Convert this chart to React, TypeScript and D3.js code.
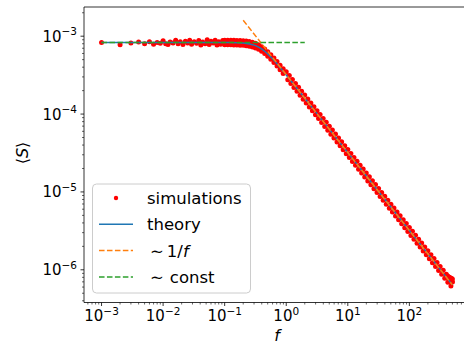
import * as d3 from "d3";

// simulation points (f, <S>)
const simF = [
  0.001, 0.002, 0.003, 0.004, 0.005, 0.006, 0.007, 0.008, 0.009, 0.010,
  0.011, 0.012, 0.013, 0.0145, 0.016, 0.0175, 0.019, 0.021, 0.023, 0.025,
  0.027, 0.029, 0.032, 0.035, 0.038, 0.041, 0.044, 0.048, 0.052, 0.056,
  0.06, 0.065, 0.07, 0.075, 0.08, 0.086, 0.093,
  // knee, two per frequency
  0.1, 0.1, 0.112, 0.112, 0.126, 0.126, 0.141, 0.141, 0.158, 0.158,
  0.178, 0.178, 0.2, 0.2, 0.224, 0.224, 0.251, 0.251, 0.282, 0.282,
  0.316, 0.316, 0.355, 0.355, 0.398, 0.398, 0.447, 0.447, 0.501, 0.501,
  0.562, 0.562, 0.631, 0.631, 0.708, 0.708, 0.794, 0.794, 0.891, 0.891,
  // 1/f part
  1.000, 1.059, 1.122, 1.189, 1.259, 1.334, 1.413, 1.496, 1.585, 1.679,
  1.778, 1.884, 1.995, 2.113, 2.239, 2.371, 2.512, 2.661, 2.818, 2.985,
  3.162, 3.350, 3.548, 3.758, 3.981, 4.217, 4.467, 4.732, 5.012, 5.309,
  5.623, 5.957, 6.310, 6.683, 7.079, 7.499, 7.943, 8.414, 8.913, 9.441,
  10.00, 10.59, 11.22, 11.89, 12.59, 13.34, 14.13, 14.96, 15.85, 16.79,
  17.78, 18.84, 19.95, 21.13, 22.39, 23.71, 25.12, 26.61, 28.18, 29.85,
  31.62, 33.50, 35.48, 37.58, 39.81, 42.17, 44.67, 47.32, 50.12, 53.09,
  56.23, 59.57, 63.10, 66.83, 70.79, 74.99, 79.43, 84.14, 89.13, 94.41,
  100.0, 105.9, 112.2, 118.9, 125.9, 133.4, 141.3, 149.6, 158.5, 167.9,
  177.8, 188.4, 199.5, 211.3, 223.9, 237.1, 251.2, 266.1, 281.8, 298.5,
  316.2, 335.0, 354.8, 375.8, 398.1, 421.7, 446.7, 473.2, 501.2,
  // flattening tail
  420, 450, 480, 500, 460, 490,
];
const simS = [
  8.3e-4, 7.75e-4, 8.2e-4, 8.45e-4, 8.0e-4, 8.5e-4, 7.9e-4, 8.3e-4, 8.1e-4, 8.75e-4,
  8.0e-4, 7.85e-4, 8.4e-4, 8.2e-4, 8.9e-4, 8.0e-4, 8.5e-4, 7.8e-4, 8.6e-4, 8.2e-4,
  8.9e-4, 7.9e-4, 8.5e-4, 8.1e-4, 8.8e-4, 7.7e-4, 8.4e-4, 8.0e-4, 9.0e-4, 7.8e-4,
  8.6e-4, 8.2e-4, 8.9e-4, 7.7e-4, 8.5e-4, 7.9e-4, 8.8e-4,
  8.87e-4, 7.75e-4, 8.87e-4, 7.75e-4, 8.86e-4, 7.74e-4, 8.84e-4, 7.72e-4, 8.82e-4, 7.70e-4,
  8.78e-4, 7.68e-4, 8.73e-4, 7.63e-4, 8.65e-4, 7.55e-4, 8.52e-4, 7.44e-4, 8.34e-4, 7.28e-4,
  8.09e-4, 7.07e-4, 7.76e-4, 6.78e-4, 7.34e-4, 6.41e-4, 6.86e-4, 5.99e-4, 6.33e-4, 5.54e-4,
  5.79e-4, 5.06e-4, 5.24e-4, 4.58e-4, 4.73e-4, 4.13e-4, 4.25e-4, 3.71e-4, 3.81e-4, 3.33e-4,
  3.498e-4, 2.765e-4, 3.117e-4, 2.462e-4, 2.778e-4, 2.195e-4, 2.476e-4, 1.957e-4, 2.207e-4, 1.744e-4,
  1.967e-4, 1.555e-4, 1.753e-4, 1.385e-4, 1.562e-4, 1.235e-4, 1.392e-4, 1.101e-4, 1.242e-4, 0.981e-4,
  1.106e-4, 0.874e-4, 0.986e-4, 0.780e-4, 0.879e-4, 0.694e-4, 0.783e-4, 0.619e-4, 0.697e-4, 0.552e-4,
  0.622e-4, 0.491e-4, 0.554e-4, 0.438e-4, 0.494e-4, 0.391e-4, 0.440e-4, 0.348e-4, 0.392e-4, 0.310e-4,
  3.498e-5, 2.765e-5, 3.117e-5, 2.462e-5, 2.778e-5, 2.195e-5, 2.476e-5, 1.957e-5, 2.207e-5, 1.744e-5,
  1.967e-5, 1.555e-5, 1.753e-5, 1.385e-5, 1.562e-5, 1.235e-5, 1.392e-5, 1.101e-5, 1.242e-5, 0.981e-5,
  1.106e-5, 0.874e-5, 0.986e-5, 0.780e-5, 0.879e-5, 0.694e-5, 0.783e-5, 0.619e-5, 0.697e-5, 0.552e-5,
  0.622e-5, 0.491e-5, 0.554e-5, 0.438e-5, 0.494e-5, 0.391e-5, 0.440e-5, 0.348e-5, 0.392e-5, 0.310e-5,
  3.498e-6, 2.765e-6, 3.117e-6, 2.462e-6, 2.778e-6, 2.195e-6, 2.476e-6, 1.957e-6, 2.207e-6, 1.744e-6,
  1.967e-6, 1.555e-6, 1.753e-6, 1.385e-6, 1.562e-6, 1.235e-6, 1.392e-6, 1.101e-6, 1.242e-6, 0.981e-6,
  1.106e-6, 0.874e-6, 0.986e-6, 0.780e-6, 0.879e-6, 0.694e-6, 0.783e-6, 0.619e-6, 0.697e-6,
  8.3e-7, 8.0e-7, 7.8e-7, 7.6e-7, 7.2e-7, 7.0e-7,
];

// theory curve
const theoryF = [
  0.001, 0.01, 0.05, 0.1, 0.126, 0.158, 0.2, 0.224, 0.251, 0.282, 0.316, 0.355,
  0.398, 0.447, 0.501, 0.562, 0.631, 0.708, 0.794, 0.891, 1, 1.26, 1.58, 2, 3,
  5, 10, 20, 50, 100, 200, 300, 500,
];
const theoryS = [
  8.3e-4, 8.3e-4, 8.3e-4, 8.29e-4, 8.28e-4, 8.24e-4, 8.16e-4, 8.08e-4, 7.96e-4,
  7.79e-4, 7.56e-4, 7.25e-4, 6.86e-4, 6.41e-4, 5.92e-4, 5.41e-4, 4.9e-4, 4.42e-4,
  3.97e-4, 3.56e-4, 3.18e-4, 2.53e-4, 2.02e-4, 1.6e-4, 1.066e-4, 6.4e-5, 3.2e-5,
  1.6e-5, 6.4e-6, 3.2e-6, 1.6e-6, 1.067e-6, 6.4e-7,
];

// asymptotes
const invF = [0.2, 500];
const invS = [1.6e-3, 6.4e-7];
const constF = [0.001, 2];
const constS = [8.3e-4, 8.3e-4];

const xTickExp = [-3, -2, -1, 0, 1, 2];
const yTickExp = [-6, -5, -4, -3];

const legendItems = ["simulations", "theory", "1/f", "const"];

const W = 464;
const H = 345;
const m = { left: 84, right: 470, top: 7, bottom: 302.5 };
const font = "DejaVu Sans, sans-serif";
const red = "#ff0000";
const blue = "#1f77b4";
const orange = "#ff7f0e";
const green = "#2ca02c";

export default function App() {
  const x = d3.scaleLog().domain([Math.pow(10, -3.285), Math.pow(10, 2.985)]).range([m.left, m.right]);
  const y = d3.scaleLog().domain([Math.pow(10, -6.42), Math.pow(10, -2.625)]).range([m.bottom, m.top]);

  const line = d3.line<[number, number]>()
    .x((d) => x(d[0]))
    .y((d) => y(d[1]));

  const zip = (a: number[], b: number[]) => a.map((v, i) => [v, b[i]] as [number, number]);

  const xMinor: number[] = [];
  for (let e = -4; e <= 3; e++) {
    for (let k = 2; k <= 9; k++) {
      const v = k * Math.pow(10, e);
      if (x(v) >= m.left && x(v) <= m.right) xMinor.push(v);
    }
  }
  const yMinor: number[] = [];
  for (let e = -7; e <= -3; e++) {
    for (let k = 2; k <= 9; k++) {
      const v = k * Math.pow(10, e);
      if (y(v) <= m.bottom && y(v) >= m.top) yMinor.push(v);
    }
  }

  const dash = "5.55,2.4";
  const lx = 99, ltx = 147, ly0 = 198, lstep = 26.3;

  return (
    <svg width={W} height={H} style={{ position: "absolute", left: 0, top: 0 }} fontFamily={font}>
      <rect width={W} height={H} fill="white" />
      <defs>
        <clipPath id="plot">
          <rect x={m.left} y={m.top} width={m.right - m.left} height={m.bottom - m.top} />
        </clipPath>
      </defs>

      <g clipPath="url(#plot)">
        {simF.map((f, i) => (
          <circle key={i} cx={x(f)} cy={y(simS[i])} r={2.5} fill={red} />
        ))}
        <path d={line(zip(theoryF, theoryS)) || ""} fill="none" stroke={blue} strokeWidth={1.5} />
        <path d={line(zip(invF, invS)) || ""} fill="none" stroke={orange} strokeWidth={1.5} strokeDasharray={dash} />
        <path d={line(zip(constF, constS)) || ""} fill="none" stroke={green} strokeWidth={1.5} strokeDasharray={dash} />
      </g>

      {/* spines */}
      <line x1={m.left} x2={m.left} y1={m.top} y2={m.bottom} stroke="black" strokeWidth={0.8} />
      <line x1={m.left} x2={m.right} y1={m.bottom} y2={m.bottom} stroke="black" strokeWidth={0.8} />
      <line x1={m.left} x2={m.right} y1={m.top} y2={m.top} stroke="black" strokeWidth={0.8} />

      {/* x ticks */}
      {xMinor.map((v, i) => (
        <line key={"xm" + i} x1={x(v)} x2={x(v)} y1={m.bottom} y2={m.bottom + 2} stroke="black" strokeWidth={0.6} />
      ))}
      {xTickExp.map((e) => (
        <g key={"x" + e} transform={`translate(${x(Math.pow(10, e))},0)`}>
          <line y1={m.bottom} y2={m.bottom + 3.5} stroke="black" strokeWidth={0.8} />
          <text y={321} textAnchor="middle" fontSize={15} fill="black">
            10<tspan dy={-6.5} fontSize={10.5}>{e < 0 ? "\u2212" + -e : e}</tspan>
          </text>
        </g>
      ))}

      {/* y ticks */}
      {yMinor.map((v, i) => (
        <line key={"ym" + i} x1={m.left - 2} x2={m.left} y1={y(v)} y2={y(v)} stroke="black" strokeWidth={0.6} />
      ))}
      {yTickExp.map((e) => (
        <g key={"y" + e} transform={`translate(0,${y(Math.pow(10, e))})`}>
          <line x1={m.left - 3.5} x2={m.left} stroke="black" strokeWidth={0.8} />
          <text x={77} y={5.5} textAnchor="end" fontSize={15} fill="black">
            10<tspan dy={-6.5} fontSize={10.5}>{"\u2212" + -e}</tspan>
          </text>
        </g>
      ))}

      {/* axis labels */}
      <text x={277} y={341} textAnchor="middle" fontSize={16} fontStyle="italic">f</text>
      <text transform="translate(28,153) rotate(-90)" textAnchor="middle" fontSize={16}>
        {"\u27E8"}<tspan fontStyle="italic">S</tspan>{"\u27E9"}
      </text>

      {/* legend */}
      <rect x={92.5} y={184} width={158} height={109} rx={4} fill="white" fillOpacity={0.8} stroke="#cccccc" strokeWidth={1} />
      <circle cx={116} cy={ly0} r={2.2} fill={red} />
      <line x1={lx} x2={lx + 34} y1={ly0 + lstep} y2={ly0 + lstep} stroke={blue} strokeWidth={1.5} />
      <line x1={lx} x2={lx + 34} y1={ly0 + 2 * lstep} y2={ly0 + 2 * lstep} stroke={orange} strokeWidth={1.5} strokeDasharray={dash} />
      <line x1={lx} x2={lx + 34} y1={ly0 + 3 * lstep} y2={ly0 + 3 * lstep} stroke={green} strokeWidth={1.5} strokeDasharray={dash} />
      <text x={ltx} y={ly0 + 6} fontSize={16.5}>{legendItems[0]}</text>
      <text x={ltx} y={ly0 + lstep + 6} fontSize={16.5}>{legendItems[1]}</text>
      <text x={ltx + 3} y={ly0 + 2 * lstep + 6} fontSize={16.5}>
        {"\u223C"}
        <tspan dx={3}>1/</tspan>
        <tspan fontStyle="italic">f</tspan>
      </text>
      <text x={ltx + 3} y={ly0 + 3 * lstep + 6} fontSize={16.5}>
        {"\u223C"}
        <tspan dx={6}>{legendItems[3]}</tspan>
      </text>
    </svg>
  );
}
